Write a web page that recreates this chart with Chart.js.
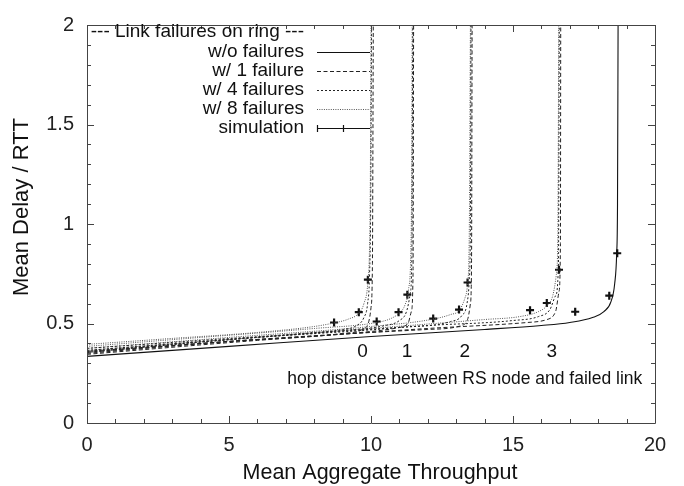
<!DOCTYPE html>
<html>
<head>
<meta charset="utf-8">
<script src="https://cdn.jsdelivr.net/npm/chart.js@4.4.1/dist/chart.umd.min.js"></script>
<style>
  html, body { margin: 0; padding: 0; background: #fff; }
  #wrap { width: 684px; height: 486px; }
</style>
</head>
<body>
<div id="wrap"><canvas id="c" width="684" height="486"></canvas></div>
<script>
// ---- data ----
const xTicks = [0, 5, 10, 15, 20];
const yTicks = [0, 0.5, 1, 1.5, 2];
const hopLabels = ['0', '1', '2', '3'];
const hopLabelX = [9.7, 11.27, 13.3, 16.37];

// w/o failures (solid)
const xNoFail = [0, 5, 10, 14, 16, 17, 17.8, 18.2, 18.45, 18.58, 18.65, 18.68, 18.7];
const yNoFail = [0.335, 0.385, 0.435, 0.47, 0.49, 0.505, 0.53, 0.56, 0.61, 0.7, 0.85, 1.1, 2.0];

// hop 0
const xH0F8 = [0, 3, 6, 8, 8.7, 9.2, 9.57, 9.75, 9.89, 9.95, 9.98, 10.0];
const yH0F8 = [0.395, 0.425, 0.455, 0.485, 0.503, 0.522, 0.552, 0.6, 0.71, 0.9, 1.3, 2.0];
const xH0F4 = [0, 4, 8, 9, 9.5, 9.75, 9.88, 9.95, 9.99, 10.02];
const yH0F4 = [0.375, 0.415, 0.455, 0.47, 0.49, 0.53, 0.6, 0.75, 1.1, 2.0];
const xH0F1 = [0, 5, 9, 9.7, 9.9, 10.0, 10.05, 10.08];
const yH0F1 = [0.36, 0.41, 0.45, 0.47, 0.5, 0.58, 0.8, 2.0];

// hop 1
const xH1F8 = [0, 4, 8, 10.2, 10.7, 10.97, 11.2, 11.32, 11.4, 11.43, 11.45];
const yH1F8 = [0.385, 0.43, 0.475, 0.505, 0.525, 0.55, 0.595, 0.67, 0.85, 1.2, 2.0];
const xH1F4 = [0, 5, 9, 10.5, 11.0, 11.25, 11.38, 11.44, 11.47];
const yH1F4 = [0.365, 0.42, 0.465, 0.49, 0.515, 0.56, 0.65, 0.85, 2.0];
const xH1F1 = [0, 5, 10, 11, 11.3, 11.42, 11.48, 11.5];
const yH1F1 = [0.355, 0.41, 0.46, 0.48, 0.5, 0.56, 0.75, 2.0];

// hop 2
const xH2F8 = [0, 5, 10, 12.19, 12.8, 13.1, 13.3, 13.4, 13.46, 13.5];
const yH2F8 = [0.375, 0.43, 0.485, 0.522, 0.545, 0.565, 0.625, 0.7, 0.95, 2.0];
const xH2F4 = [0, 6, 11, 12.8, 13.2, 13.38, 13.46, 13.5, 13.52];
const yH2F4 = [0.36, 0.43, 0.48, 0.51, 0.54, 0.6, 0.72, 1.0, 2.0];
const xH2F1 = [0, 6, 12, 13.2, 13.4, 13.5, 13.54, 13.56];
const yH2F1 = [0.35, 0.42, 0.47, 0.49, 0.52, 0.6, 0.8, 2.0];

// hop 3
const xH3F8 = [0, 5, 10, 14, 15.25, 15.9, 16.2, 16.4, 16.52, 16.58, 16.61];
const yH3F8 = [0.365, 0.42, 0.475, 0.52, 0.535, 0.56, 0.59, 0.64, 0.74, 0.95, 2.0];
const xH3F4 = [0, 6, 12, 15, 15.9, 16.3, 16.5, 16.6, 16.63];
const yH3F4 = [0.355, 0.43, 0.49, 0.515, 0.535, 0.57, 0.64, 0.8, 2.0];
const xH3F1 = [0, 6, 12, 15.5, 16.2, 16.5, 16.62, 16.67, 16.68];
const yH3F1 = [0.345, 0.415, 0.475, 0.505, 0.52, 0.56, 0.66, 0.9, 2.0];

// simulation points
const xSim = [8.7, 9.57, 9.89, 10.2, 10.97, 11.28, 12.19, 13.1, 13.4, 15.6, 16.19, 16.62, 17.19, 18.39, 18.67];
const ySim = [0.505, 0.557, 0.72, 0.51, 0.557, 0.645, 0.525, 0.57, 0.706, 0.567, 0.603, 0.77, 0.559, 0.64, 0.853];

// ---- build ----
const pts = (xs, ys) => xs.map((x, i) => ({ x: x, y: ys[i] }));
const FONT = "'Liberation Sans', Arial, Helvetica, sans-serif";

const STYLE = {
  solid: { borderColor: '#111', borderDash: [], borderWidth: 1.1 },
  f1:    { borderColor: '#222', borderDash: [4, 2.5], borderWidth: 1 },
  f4:    { borderColor: '#222', borderDash: [2, 2], borderWidth: 1 },
  f8:    { borderColor: '#555', borderDash: [1, 1.3], borderWidth: 1 }
};

function lineDs(label, xs, ys, st) {
  return Object.assign({
    type: 'line', label: label, data: pts(xs, ys),
    pointRadius: 0, fill: false, cubicInterpolationMode: 'monotone', tension: 0.4
  }, st);
}

const datasets = [
  lineDs('w/o failures', xNoFail, yNoFail, STYLE.solid),
  lineDs('hop0 8', xH0F8, yH0F8, STYLE.f8),
  lineDs('hop0 4', xH0F4, yH0F4, STYLE.f4),
  lineDs('hop0 1', xH0F1, yH0F1, STYLE.f1),
  lineDs('hop1 8', xH1F8, yH1F8, STYLE.f8),
  lineDs('hop1 4', xH1F4, yH1F4, STYLE.f4),
  lineDs('hop1 1', xH1F1, yH1F1, STYLE.f1),
  lineDs('hop2 8', xH2F8, yH2F8, STYLE.f8),
  lineDs('hop2 4', xH2F4, yH2F4, STYLE.f4),
  lineDs('hop2 1', xH2F1, yH2F1, STYLE.f1),
  lineDs('hop3 8', xH3F8, yH3F8, STYLE.f8),
  lineDs('hop3 4', xH3F4, yH3F4, STYLE.f4),
  lineDs('hop3 1', xH3F1, yH3F1, STYLE.f1),
  {
    type: 'scatter', label: 'simulation', data: pts(xSim, ySim),
    pointStyle: 'cross', pointRadius: 4, borderWidth: 2.2,
    borderColor: '#111', backgroundColor: '#111'
  }
];

const framePlugin = {
  id: 'frame',
  afterDatasetsDraw(chart) {
    const { ctx, chartArea: a, scales } = chart;
    const xs = scales.x, ys = scales.y;
    ctx.save();
    ctx.strokeStyle = '#444';
    ctx.lineWidth = 1;
    ctx.beginPath();
    ctx.rect(Math.round(a.left) + 0.5, Math.round(a.top) + 0.5, Math.round(a.right - a.left), Math.round(a.bottom - a.top));
    ctx.stroke();
    ctx.beginPath();
    for (let v = 0; v <= 20; v += 1) {
      const px = Math.round(xs.getPixelForValue(v)) + 0.5;
      const len = (v % 5 === 0) ? 7 : 4;
      ctx.moveTo(px, a.bottom); ctx.lineTo(px, a.bottom - len);
      ctx.moveTo(px, a.top); ctx.lineTo(px, a.top + len);
    }
    for (let i = 0; i <= 20; i++) {
      const v = i / 10;
      const py = Math.round(ys.getPixelForValue(v)) + 0.5;
      const len = (i % 5 === 0) ? 7 : 4;
      ctx.moveTo(a.left, py); ctx.lineTo(a.left + len, py);
      ctx.moveTo(a.right, py); ctx.lineTo(a.right - len, py);
    }
    ctx.stroke();

    ctx.fillStyle = '#111';
    ctx.textAlign = 'center';
    ctx.textBaseline = 'middle';

    // axis titles
    ctx.font = '21.5px ' + FONT;
    ctx.fillText('Mean Aggregate Throughput', 380, 473);
    ctx.save();
    ctx.translate(22, 207);
    ctx.rotate(-Math.PI / 2);
    ctx.font = '22px ' + FONT;
    ctx.fillText('Mean Delay / RTT', 0, 0);
    ctx.restore();

    // hop-distance annotations
    ctx.font = '19px ' + FONT;
    hopLabels.forEach((t, i) => {
      ctx.fillText(t, xs.getPixelForValue(hopLabelX[i]), ys.getPixelForValue(0.36));
    });
    ctx.font = '17.5px ' + FONT;
    ctx.fillText('hop distance between RS node and failed link', xs.getPixelForValue(13.3), ys.getPixelForValue(0.222));

    // legend
    const rx = 304, sx0 = 317, sx1 = 370;
    const rows = [32, 52, 71, 90, 109, 128];
    ctx.font = '19px ' + FONT;
    ctx.textAlign = 'right';
    ctx.fillText('--- Link failures on ring ---', rx, rows[0]);
    const entries = [
      ['w/o failures', STYLE.solid],
      ['w/ 1 failure', STYLE.f1],
      ['w/ 4 failures', STYLE.f4],
      ['w/ 8 failures', STYLE.f8]
    ];
    entries.forEach((e, i) => {
      const y = rows[i + 1];
      ctx.fillText(e[0], rx, y);
      ctx.save();
      ctx.strokeStyle = e[1].borderColor;
      ctx.lineWidth = e[1].borderWidth;
      ctx.setLineDash(e[1].borderDash);
      ctx.beginPath();
      ctx.moveTo(sx0, y + 0.5); ctx.lineTo(sx1, y + 0.5);
      ctx.stroke();
      ctx.restore();
    });
    const ysim = rows[5];
    ctx.fillText('simulation', rx, ysim);
    ctx.strokeStyle = '#111';
    ctx.lineWidth = 1.2;
    ctx.setLineDash([]);
    ctx.beginPath();
    ctx.moveTo(sx0, ysim + 0.5); ctx.lineTo(sx1, ysim + 0.5);
    ctx.moveTo(sx0 + 0.5, ysim - 3); ctx.lineTo(sx0 + 0.5, ysim + 4);
    ctx.moveTo(343.5, ysim - 3); ctx.lineTo(343.5, ysim + 4);
    ctx.stroke();
    ctx.restore();
  }
};

new Chart(document.getElementById('c'), {
  data: { datasets: datasets },
  options: {
    responsive: false,
    animation: false,
    layout: { padding: { left: 0, right: 29, top: 15, bottom: 0 } },
    plugins: { legend: { display: false }, tooltip: { enabled: false } },
    scales: {
      x: {
        type: 'linear', min: 0, max: 20,
        afterBuildTicks: s => { s.ticks = xTicks.map(v => ({ value: v })); },
        afterFit: s => { s.height = 63; },
        grid: { display: false, drawTicks: false },
        border: { display: false },
        ticks: { padding: 10, color: '#222', font: { family: FONT, size: 20 },
                 callback: v => String(v) }
      },
      y: {
        type: 'linear', min: 0, max: 2,
        afterBuildTicks: s => { s.ticks = yTicks.map(v => ({ value: v })); },
        afterFit: s => { s.width = 87; },
        grid: { display: false, drawTicks: false },
        border: { display: false },
        ticks: { padding: 13, color: '#222', font: { family: FONT, size: 20 },
                 callback: v => String(v) }
      }
    }
  },
  plugins: [framePlugin]
});
</script>
</body>
</html>
